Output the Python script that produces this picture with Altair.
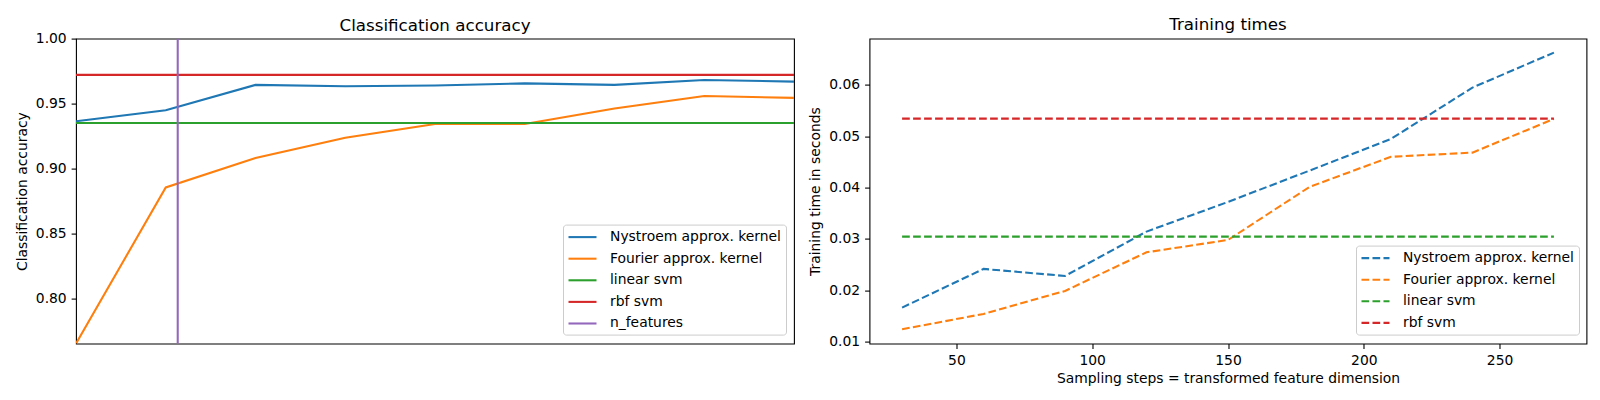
import altair as alt
import pandas as pd

# ---- data ----
sample_sizes = [30, 60, 90, 120, 150, 180, 210, 240, 270]
nystroem_scores = [0.9364, 0.9449, 0.9644, 0.9633, 0.9640, 0.9656, 0.9644, 0.9682, 0.9669]
fourier_scores = [0.7655, 0.8856, 0.9082, 0.9238, 0.9344, 0.9344, 0.9462, 0.9559, 0.9544]
linear_svm_score = 0.9351
rbf_svm_score = 0.9721
n_features = 64

nystroem_times = [0.01662, 0.02416, 0.02279, 0.03143, 0.03721, 0.04331, 0.04948, 0.05948, 0.0663]
fourier_times = [0.0124, 0.01539, 0.01987, 0.0274, 0.0298, 0.04013, 0.0460, 0.04682, 0.05338]
linear_svm_time = 0.03045
rbf_svm_time = 0.05344

acc_names = ["Nystroem approx. kernel", "Fourier approx. kernel", "linear svm", "rbf svm", "n_features"]
acc_colors = ["#1f77b4", "#ff7f0e", "#2ca02c", "#d62728", "#9467bd"]
time_names = acc_names[:4]
time_colors = acc_colors[:4]

acc_ticks = [0.80, 0.85, 0.90, 0.95, 1.00]
time_ticks = [0.01, 0.02, 0.03, 0.04, 0.05, 0.06]
time_xticks = [50, 100, 150, 200, 250]

# ---- tables ----
rows = []
for x, y in zip(sample_sizes, nystroem_scores):
    rows.append({"x": x, "y": y, "series": acc_names[0]})
for x, y in zip(sample_sizes, fourier_scores):
    rows.append({"x": x, "y": y, "series": acc_names[1]})
for x in (sample_sizes[0], sample_sizes[-1]):
    rows.append({"x": x, "y": linear_svm_score, "series": acc_names[2]})
    rows.append({"x": x, "y": rbf_svm_score, "series": acc_names[3]})
rows.append({"x": n_features, "y": 0.7, "series": acc_names[4]})
rows.append({"x": n_features, "y": 1.0, "series": acc_names[4]})
df_acc = pd.DataFrame(rows)

rows = []
for x, y in zip(sample_sizes, nystroem_times):
    rows.append({"x": x, "y": y, "series": time_names[0]})
for x, y in zip(sample_sizes, fourier_times):
    rows.append({"x": x, "y": y, "series": time_names[1]})
for x in (sample_sizes[0], sample_sizes[-1]):
    rows.append({"x": x, "y": linear_svm_time, "series": time_names[2]})
    rows.append({"x": x, "y": rbf_svm_time, "series": time_names[3]})
df_time = pd.DataFrame(rows)

FONT = "DejaVu Sans"
LW = 2.08
DASH = [7.7, 3.3]

legend_common = dict(
    title=None,
    orient="none",
    padding=4,
    rowPadding=5.6,
    symbolOffset=7,
    labelOffset=19,
    labelFont=FONT,
    labelFontSize=13.9,
    labelColor="black",
    labelLimit=400,
    symbolType="M-2,0H2",
    symbolSize=196,
    symbolStrokeWidth=LW,
    symbolFillColor="transparent",
    strokeColor="#cccccc",
    fillColor="rgba(255,255,255,0.8)",
    cornerRadius=3,
)

def title(text, offset):
    return alt.TitleParams(text=text, font=FONT, fontSize=16.7, fontWeight="normal",
                           color="black", anchor="middle", offset=offset, baseline="alphabetic")

left = alt.Chart(df_acc).mark_line(strokeWidth=LW, clip=True).encode(
    x=alt.X("x:Q", scale=alt.Scale(domain=[30, 270], nice=False, zero=False), axis=None),
    y=alt.Y("y:Q", scale=alt.Scale(domain=[0.7655, 1.0], nice=False, zero=False),
            axis=alt.Axis(values=acc_ticks, format=".2f", title="Classification accuracy")),
    color=alt.Color("series:N", scale=alt.Scale(domain=acc_names, range=acc_colors),
                    legend=alt.Legend(legendX=487, legendY=186, **legend_common)),
).properties(width=718, height=305, title=title("Classification accuracy", -16))

right = alt.Chart(df_time).mark_line(strokeWidth=LW, strokeDash=DASH, clip=True).encode(
    x=alt.X("x:Q", scale=alt.Scale(domain=[18, 282], nice=False, zero=False),
            axis=alt.Axis(values=time_xticks, format="d", titlePadding=4,
                          title="Sampling steps = transformed feature dimension")),
    y=alt.Y("y:Q", scale=alt.Scale(domain=[0.00961, 0.06903], nice=False, zero=False),
            axis=alt.Axis(values=time_ticks, format=".2f", title="Training time in seconds")),
    color=alt.Color("series:N", scale=alt.Scale(domain=time_names, range=time_colors),
                    legend=alt.Legend(symbolDash=DASH, legendX=486.5, legendY=207,
                                      **legend_common)),
).properties(width=717, height=305, title=title("Training times", -8))

chart = alt.hconcat(left, right, spacing=75.5, bounds="flush").resolve_scale(
    color="independent"
).resolve_legend(color="independent").properties(
    padding={"left": 6, "top": 7.6, "right": 0, "bottom": 0}
).configure_view(
    stroke="black", strokeWidth=1.1
).configure_axis(
    domain=False, grid=False,
    tickColor="black", tickSize=4.9, tickWidth=1.1,
    labelFont=FONT, labelFontSize=13.9, labelColor="black", labelPadding=4.9,
    titleFont=FONT, titleFontSize=13.9, titleFontWeight="normal", titleColor="black",
    titlePadding=6,
)

chart.save("out.html", embed_options={"renderer": "svg", "actions": False})
